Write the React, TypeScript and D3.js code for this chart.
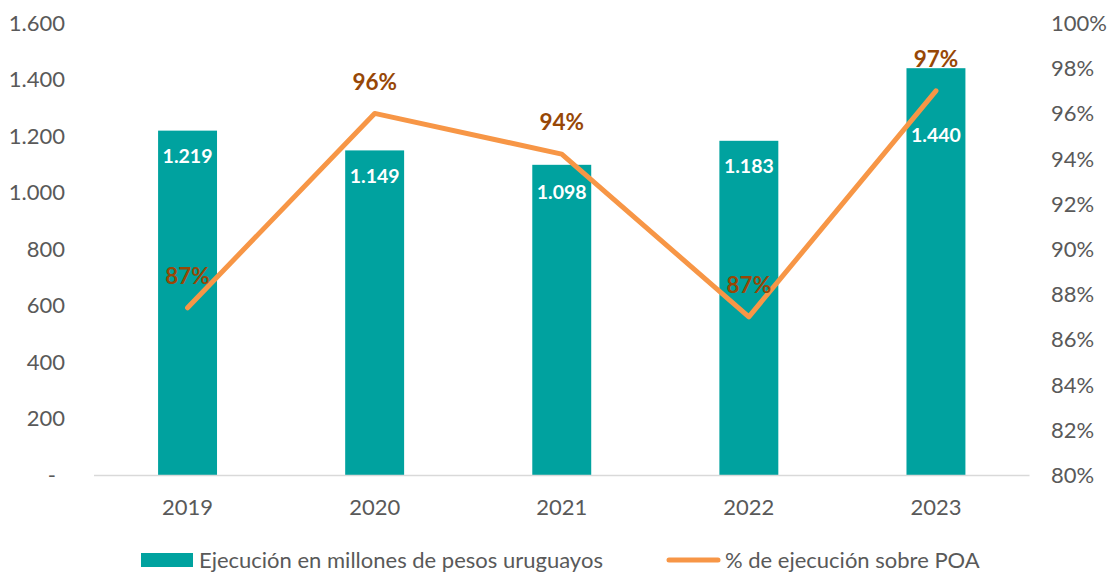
import React from "react";
import * as d3 from "d3";

const years = ["2019", "2020", "2021", "2022", "2023"];
const ejecucion = [1219, 1149, 1098, 1183, 1440];
const porcentaje = [87.4, 96.0, 94.2, 87.0, 97.0];
const pctLabels = ["87%", "96%", "94%", "87%", "97%"];
const leftTicks = [0, 200, 400, 600, 800, 1000, 1200, 1400, 1600];
const rightTicks = [80, 82, 84, 86, 88, 90, 92, 94, 96, 98, 100];
const seriesNames = ["Ejecución en millones de pesos uruguayos", "% de ejecución sobre POA"];

const W = 1109;
const H = 572;
const M = { left: 94, right: 1029.5, top: 23, bottom: 475 };
const TEAL = "#00A29F";
const ORANGE = "#F79646";
const BROWN = "#974706";
const GRAY = "#595959";
const FONT = "Lato, sans-serif";

const fmt = (v: number) => (v === 0 ? "-" : d3.format(",")(v).replace(/,/g, "."));

export default function App() {
  const x = d3.scaleBand<string>().domain(years).range([M.left, M.right]).paddingInner(0.685).paddingOuter(0.3425);
  const yL = d3.scaleLinear().domain([0, 1600]).range([M.bottom, M.top]);
  const yR = d3.scaleLinear().domain([80, 100]).range([M.bottom, M.top]);
  const cx = (d: string) => (x(d) as number) + x.bandwidth() / 2;
  const line = d3
    .line<number>()
    .x((_, i) => cx(years[i]))
    .y((v) => yR(v));
  const barLabelDy = [25, 26, 27, 25, 67];

  return (
    <svg width={W} height={H} style={{ display: "block", position: "absolute", left: 0, top: 0 }} fontFamily={FONT}>
      <rect width={W} height={H} fill="#fff" />
      {/* bars */}
      {years.map((yr, i) => (
        <rect key={yr} x={x(yr)} y={yL(ejecucion[i])} width={x.bandwidth()} height={yL(0) - yL(ejecucion[i])} fill={TEAL} />
      ))}
      {/* baseline */}
      <line x1={M.left} x2={M.right} y1={M.bottom + 0.5} y2={M.bottom + 0.5} stroke="#D9D9D9" strokeWidth={1.5} />
      {/* left ticks */}
      {leftTicks.map((t) => (
        <text key={t} x={t === 0 ? 56 : 65} y={yL(t)} dy="0.36em" textAnchor="end" fontSize={22} fill={GRAY}>
          {fmt(t)}
        </text>
      ))}
      {/* right ticks */}
      {rightTicks.map((t) => (
        <text key={t} x={1051} y={yR(t)} dy="0.36em" textAnchor="start" fontSize={22} fill={GRAY}>
          {t}%
        </text>
      ))}
      {/* x labels */}
      {years.map((yr) => (
        <text key={yr} x={cx(yr)} y={507} dy="0.36em" textAnchor="middle" fontSize={22} fill={GRAY}>
          {yr}
        </text>
      ))}
      {/* bar value labels */}
      {years.map((yr, i) => (
        <text key={yr} x={cx(yr)} y={yL(ejecucion[i]) + barLabelDy[i]} dy="0.36em" textAnchor="middle" fontSize={19.5} fontWeight="bold" fill="#fff">
          {fmt(ejecucion[i])}
        </text>
      ))}
      {/* line */}
      <path d={line(porcentaje) as string} fill="none" stroke={ORANGE} strokeWidth={5} strokeLinecap="round" strokeLinejoin="round" />
      {/* pct labels */}
      {years.map((yr, i) => (
        <text key={yr} x={cx(yr)} y={yR(porcentaje[i]) - 32} dy="0.36em" textAnchor="middle" fontSize={22.5} fontWeight="bold" fill={BROWN}>
          {pctLabels[i]}
        </text>
      ))}
      {/* legend */}
      <rect x={141} y={553} width={52} height={14} fill={TEAL} />
      <text x={199} y={560} dy="0.36em" fontSize={22} fill={GRAY}>
        {seriesNames[0]}
      </text>
      <line x1={669} x2={718} y1={560} y2={560} stroke={ORANGE} strokeWidth={5} strokeLinecap="round" />
      <text x={725} y={560} dy="0.36em" fontSize={22} fill={GRAY}>
        {seriesNames[1]}
      </text>
    </svg>
  );
}
